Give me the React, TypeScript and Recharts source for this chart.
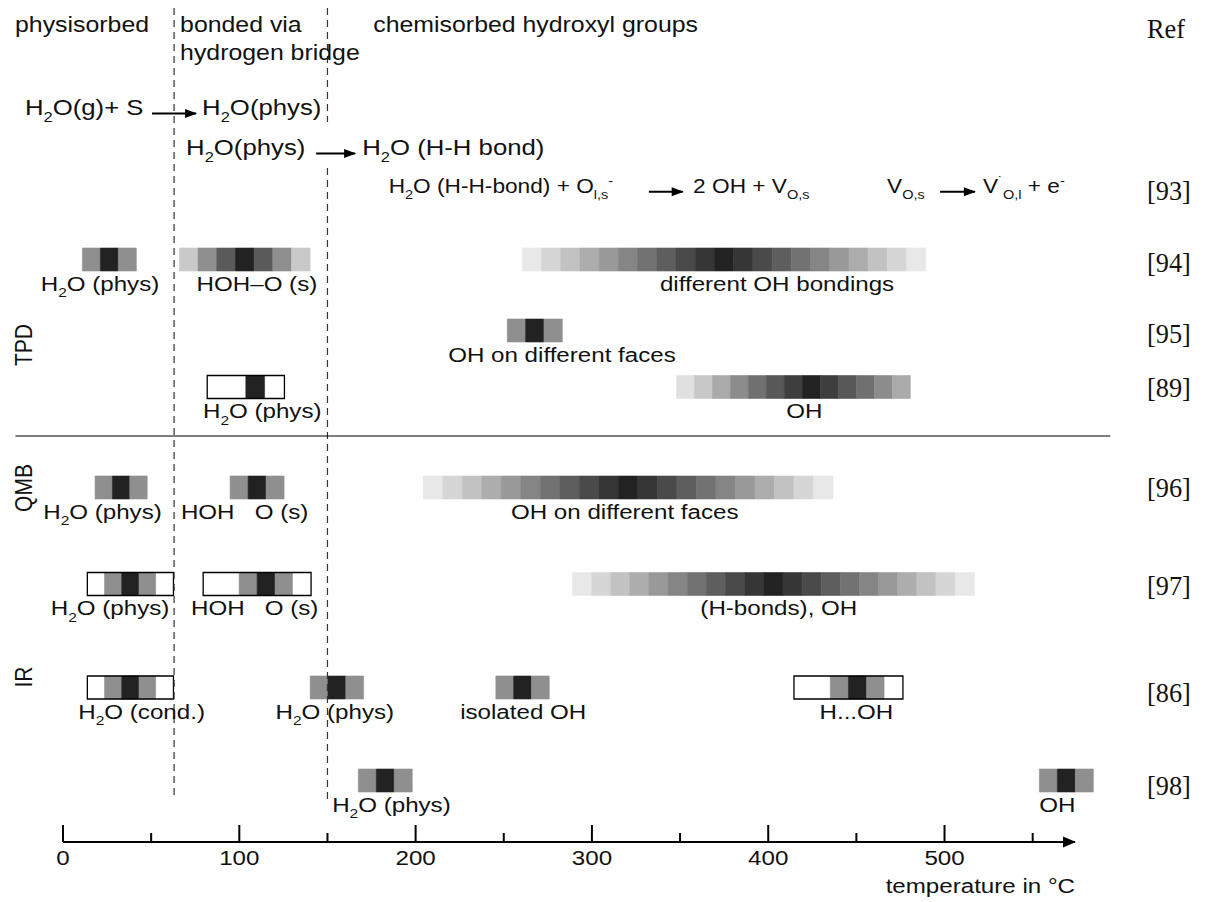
import React from "react";
import {
  ComposedChart,
  XAxis,
  YAxis,
  ReferenceArea,
  ReferenceLine,
  ReferenceDot,
} from "recharts";

const SANS = "'Liberation Sans', Arial, Helvetica, sans-serif";
const SERIF = "'Liberation Serif', 'Times New Roman', serif";
const INK = "#111111";

// temperature axis in °C
const tempTicks = [0, 50, 100, 150, 200, 250, 300, 350, 400, 450, 500, 550];
const tempMax = 574;
// borders physisorbed | hydrogen bridge | chemisorbed
const regionBorders = [63, 150];

// literature column on the right
const refs = ["Ref", "[93]", "[94]", "[95]", "[89]", "[96]", "[97]", "[86]", "[98]"];

// grey levels of the bands
const WH = "#ffffff";
const MID = "#8f8f8f";
const DK = "#222222";
const peak3 = [MID, DK, MID];
const peak7 = ["#c9c9c9", MID, "#5a5a5a", DK, "#5a5a5a", MID, "#c9c9c9"];
const peak13 = [
  "#e0e0e0", "#c8c8c8", "#aaaaaa", "#8c8c8c", "#707070", "#585858", "#3e3e3e",
  DK, "#3e3e3e", "#585858", "#707070", "#8c8c8c", "#aaaaaa",
];
const peak21 = [
  "#e8e8e8", "#d6d6d6", "#c2c2c2", "#adadad", "#999999", "#858585", "#727272",
  "#5e5e5e", "#4a4a4a", "#363636", DK, "#363636", "#4a4a4a", "#5e5e5e",
  "#727272", "#858585", "#999999", "#adadad", "#c2c2c2", "#d6d6d6", "#e8e8e8",
];
const box4 = [WH, WH, DK, WH];
const box5 = [WH, MID, DK, MID, WH];
const box6 = [WH, WH, MID, DK, MID, WH];

type Band = {
  from: number; // °C where the band starts
  step: number; // °C per grey cell
  shades: string[];
  boxed?: boolean;
  label: string;
  at: number; // °C where the label is centred
};

const bands94: Band[] = [
  { from: 11, step: 10.2, shades: peak3, label: "H_{2}O (phys)", at: 21 },
  { from: 66, step: 10.6, shades: peak7, label: "HOH\u2013O (s)", at: 110 },
  { from: 260.5, step: 10.9, shades: peak21, label: "different OH bondings", at: 405 },
];
const bands95: Band[] = [
  { from: 252, step: 10.4, shades: peak3, label: "OH on different faces", at: 283 },
];
const bands89: Band[] = [
  { from: 81.8, step: 10.95, shades: box4, boxed: true, label: "H_{2}O (phys)", at: 113 },
  { from: 348, step: 10.2, shades: peak13, label: "OH", at: 420.5 },
];
const bands96: Band[] = [
  { from: 18.2, step: 9.85, shades: peak3, label: "H_{2}O (phys)", at: 22.4 },
  { from: 94.8, step: 10.2, shades: peak3, label: "HOH\u00a0\u00a0\u00a0O (s)", at: 103 },
  { from: 204.3, step: 11.07, shades: peak21, label: "OH on different faces", at: 318.6 },
];
const bands97: Band[] = [
  { from: 13.8, step: 9.77, shades: box5, boxed: true, label: "H_{2}O (phys)", at: 26.7 },
  { from: 79.5, step: 10.2, shades: box6, boxed: true, label: "HOH\u00a0\u00a0\u00a0O (s)", at: 108.7 },
  { from: 289, step: 10.85, shades: peak21, label: "(H-bonds), OH", at: 406 },
];
const bands86: Band[] = [
  { from: 13.8, step: 9.77, shades: box5, boxed: true, label: "H_{2}O (cond.)", at: 44.6 },
  { from: 140.2, step: 10.1, shades: peak3, label: "H_{2}O (phys)", at: 154.2 },
  { from: 245.5, step: 10.1, shades: peak3, label: "isolated OH", at: 261 },
  { from: 414.6, step: 10.3, shades: box6, boxed: true, label: "H...OH", at: 450 },
];
const bands98: Band[] = [
  { from: 167.5, step: 10.2, shades: peak3, label: "H_{2}O (phys)", at: 186.3 },
  { from: 553.8, step: 10.2, shades: peak3, label: "OH", at: 564 },
];

const bandRows = [
  { ref: "[94]", bands: bands94 },
  { ref: "[95]", bands: bands95 },
  { ref: "[89]", bands: bands89 },
  { ref: "[96]", bands: bands96 },
  { ref: "[97]", bands: bands97 },
  { ref: "[86]", bands: bands86 },
  { ref: "[98]", bands: bands98 },
];

// reaction scheme of [93]
const reactionTexts = [
  { at: -21.6, line: 1, text: "H_{2}O(g)+ S" },
  { at: 78.9, line: 1, text: "H_{2}O(phys)" },
  { at: 69.8, line: 2, text: "H_{2}O(phys)" },
  { at: 169.7, line: 2, text: "H_{2}O (H-H bond)" },
  { at: 184.7, line: 3, text: "H_{2}O (H-H-bond) + O_{l,s}^{-}" },
  { at: 357.4, line: 3, text: "2 OH + V_{O,s}" },
  { at: 467.4, line: 3, text: "V_{O,s}" },
  { at: 521.8, line: 3, text: "V^{\u02d9}_{O,l} + e^{-}" },
];
const reactionArrows = [
  { from: 50.5, to: 75.5, line: 1 },
  { from: 143.6, to: 165.7, line: 2 },
  { from: 332.3, to: 351.5, line: 3 },
  { from: 497.5, to: 517.2, line: 3 },
];

const headers = [
  { at: -27.2, line: 0, text: "physisorbed" },
  { at: 66.4, line: 0, text: "bonded via" },
  { at: 66.4, line: 1, text: "hydrogen bridge" },
  { at: 176, line: 0, text: "chemisorbed hydroxyl groups" },
];

const methods = ["TPD", "QMB", "IR"];

// ---- layout (pixels from top of the plot) ----
const W = 1214;
const H = 902;
const PLOT_H = 842;
const HEADER_Y = [24, 52.5];
const REACTION_Y = [0, 107.5, 147.5, 185.7];
const REACTION_FS = [0, 22, 22, 21];
const REACTION_SX = [1, 1.17, 1.17, 1.08];
const ROW_Y: Record<string, number> = {
  "[94]": 259.5, "[95]": 330.5, "[89]": 387, "[96]": 487.5,
  "[97]": 584, "[86]": 687.5, "[98]": 780.5,
};
const REF_Y: Record<string, number> = {
  Ref: 28, "[93]": 190, "[94]": 262, "[95]": 333, "[89]": 387,
  "[96]": 487, "[97]": 585, "[86]": 692, "[98]": 785,
};
const METHOD_Y = [345, 488, 677];
const BAND_HALF = 11.5;
const LABEL_GAP = 24;
const FS = 21;
const STRETCH = 1.15;

function rich(text: string, size: number) {
  const parts: { t: string; s: number }[] = [];
  const re = /([_^])\{([^}]*)\}/g;
  let last = 0;
  let m: RegExpExecArray | null;
  while ((m = re.exec(text))) {
    if (m.index > last) parts.push({ t: text.slice(last, m.index), s: 0 });
    parts.push({ t: m[2], s: m[1] === "_" ? 1 : -1 });
    last = re.lastIndex;
  }
  if (last < text.length) parts.push({ t: text.slice(last), s: 0 });
  let cur = 0;
  return parts.map((p, i) => {
    const target = p.s === 1 ? size * 0.3 : p.s === -1 ? -size * 0.38 : 0;
    const dy = target - cur;
    cur = target;
    return (
      <tspan key={i} dy={dy} fontSize={p.s ? size * 0.64 : size}>
        {p.t}
      </tspan>
    );
  });
}

function Txt({
  cx, cy, text, anchor = "middle", size = FS, family = SANS, sx = STRETCH, rotate = 0,
}: {
  cx: number; cy: number; text: string; anchor?: string; size?: number;
  family?: string; sx?: number; rotate?: number;
}) {
  const scale = rotate ? `scale(1,${sx})` : `scale(${sx},1)`;
  return (
    <text
      transform={`translate(${cx},${cy}) rotate(${rotate}) ${scale}`}
      x={0}
      y={size * 0.355}
      textAnchor={anchor as any}
      fontFamily={family}
      fontSize={size}
      fill={INK}
    >
      {rich(text, size)}
    </text>
  );
}

function note(key: string, t: number, y: number, text: string, opts: any = {}) {
  return (
    <ReferenceDot
      key={key}
      x={t}
      y={y}
      r={1}
      ifOverflow="visible"
      shape={(p: any) => <Txt cx={p.cx} cy={p.cy} text={text} {...opts} />}
    />
  );
}

function arrow(key: string, from: number, to: number, y: number) {
  return [
    <ReferenceLine
      key={key + "-l"}
      segment={[{ x: from, y }, { x: to, y }]}
      stroke="#000"
      strokeWidth={2}
      ifOverflow="visible"
    />,
    <ReferenceDot
      key={key + "-h"}
      x={to}
      y={y}
      r={1}
      ifOverflow="visible"
      shape={(p: any) => (
        <polygon
          points={`${p.cx - 11},${p.cy - 4.5} ${p.cx + 1},${p.cy} ${p.cx - 11},${p.cy + 4.5}`}
          fill="#000"
        />
      )}
    />,
  ];
}

function TempTick(props: any) {
  const { x, y, payload } = props;
  const major = payload.value % 100 === 0;
  return (
    <g>
      <line x1={x} x2={x} y1={y} y2={y - (major ? 17 : 9)} stroke="#000" strokeWidth={2} />
      {major && <Txt cx={x} cy={y + 16} text={String(payload.value)} />}
    </g>
  );
}

function RefTick(props: any) {
  const { x, y, payload } = props;
  const name = refs.find((r) => REF_Y[r] === payload.value) ?? "";
  return <Txt cx={x} cy={y} text={name} anchor="start" size={28} family={SERIF} sx={0.94} />;
}

export default function App() {
  return (
    <div style={{ width: W, height: H, background: "#fff" }}>
      <style>{"body{margin:0}"}</style>
      <ComposedChart
        width={W}
        height={H}
        data={[]}
        margin={{ top: 0, right: 0, bottom: 0, left: 63 }}
      >
        <XAxis
          type="number"
          dataKey="t"
          domain={[0, tempMax]}
          allowDataOverflow
          ticks={tempTicks}
          interval={0}
          height={H - PLOT_H}
          tickSize={0}
          tickMargin={0}
          tickLine={false}
          axisLine={{ stroke: "#000", strokeWidth: 2 }}
          tick={<TempTick />}
        />
        <YAxis
          type="number"
          dataKey="y"
          orientation="right"
          domain={[0, PLOT_H]}
          reversed
          allowDataOverflow
          width={W - 63 - 1012}
          ticks={refs.map((r) => REF_Y[r])}
          interval={0}
          tickSize={0}
          tickMargin={72}
          tickLine={false}
          axisLine={false}
          tick={<RefTick />}
        />

        {/* region borders */}
        <ReferenceLine
          segment={[{ x: regionBorders[0], y: 8 }, { x: regionBorders[0], y: 800 }]}
          stroke="#333" strokeWidth={1.2} strokeDasharray="7 5" ifOverflow="visible"
        />
        <ReferenceLine
          segment={[{ x: regionBorders[1], y: 8 }, { x: regionBorders[1], y: 122 }]}
          stroke="#333" strokeWidth={1.2} strokeDasharray="7 5" ifOverflow="visible"
        />
        <ReferenceLine
          segment={[{ x: regionBorders[1], y: 168 }, { x: regionBorders[1], y: 800 }]}
          stroke="#333" strokeWidth={1.2} strokeDasharray="7 5" ifOverflow="visible"
        />

        {/* TPD | QMB/IR separator */}
        <ReferenceLine
          segment={[{ x: -27, y: 436 }, { x: 594, y: 436 }]}
          stroke="#000" strokeWidth={1.2} ifOverflow="visible"
        />

        {headers.map((h, i) =>
          note("h" + i, h.at, HEADER_Y[h.line], h.text, { anchor: "start", size: 22, sx: 1.13 })
        )}
        {reactionTexts.map((r, i) =>
          note("r" + i, r.at, REACTION_Y[r.line], r.text, {
            anchor: "start",
            size: REACTION_FS[r.line],
            sx: REACTION_SX[r.line],
          })
        )}
        {reactionArrows.flatMap((a, i) => arrow("a" + i, a.from, a.to, REACTION_Y[a.line] + 6))}

        {bandRows.flatMap((row) =>
          row.bands.flatMap((b, bi) => {
            const y = ROW_Y[row.ref];
            const cells = b.shades.map((c, i) => (
              <ReferenceArea
                key={`${row.ref}-${bi}-${i}`}
                x1={b.from + i * b.step}
                x2={b.from + (i + 1) * b.step}
                y1={y - BAND_HALF}
                y2={y + BAND_HALF}
                fill={c}
                fillOpacity={1}
                stroke={c}
                strokeWidth={0.6}
                ifOverflow="visible"
              />
            ));
            const outline = b.boxed
              ? [
                  <ReferenceArea
                    key={`${row.ref}-${bi}-box`}
                    x1={b.from}
                    x2={b.from + b.shades.length * b.step}
                    y1={y - BAND_HALF}
                    y2={y + BAND_HALF}
                    fill="none"
                    stroke="#000"
                    strokeWidth={1.3}
                    ifOverflow="visible"
                  />,
                ]
              : [];
            return [...cells, ...outline, note(`${row.ref}-${bi}-lab`, b.at, y + LABEL_GAP, b.label)];
          })
        )}

        {methods.map((m, i) => note("m" + i, -22.3, METHOD_Y[i], m, { rotate: -90 }))}

        <ReferenceDot
          x={tempMax}
          y={PLOT_H}
          r={1}
          ifOverflow="visible"
          shape={(p: any) => (
            <polygon
              points={`${p.cx - 12},${p.cy - 5.5} ${p.cx + 1},${p.cy} ${p.cx - 12},${p.cy + 5.5}`}
              fill="#000"
            />
          )}
        />
        {note("xlabel", tempMax, 886, "temperature in \u00b0C", { anchor: "end" })}
      </ComposedChart>
    </div>
  );
}
